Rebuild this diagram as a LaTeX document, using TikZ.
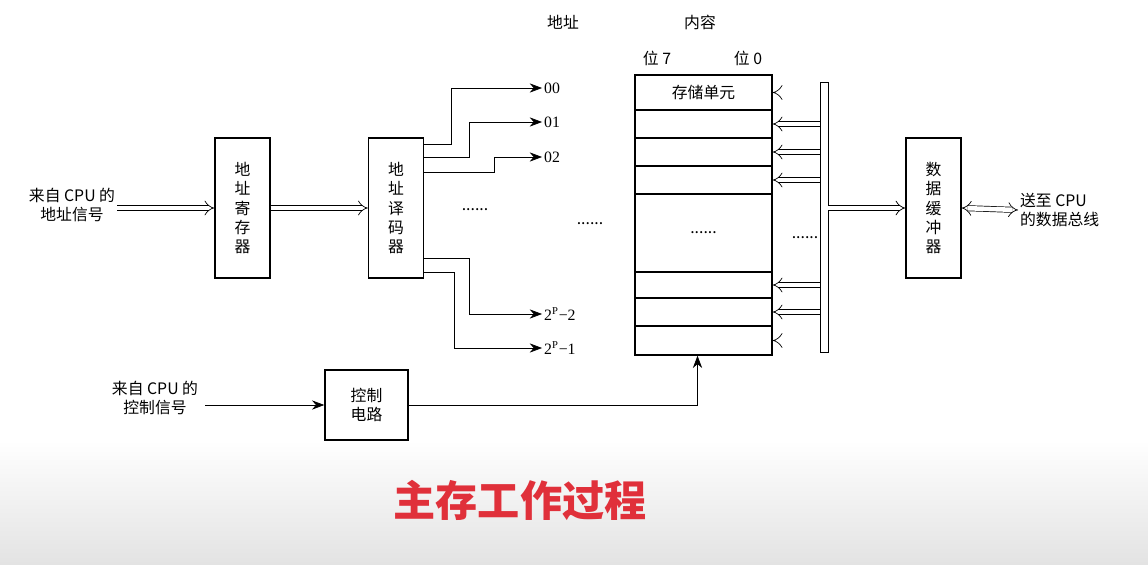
\documentclass[tikz,border=0pt]{standalone}
\usepackage{fontspec}
\setmainfont{Noto Sans CJK SC}
\newfontfamily\numfont{Liberation Serif}
\usetikzlibrary{arrows.meta, positioning, calc}
\definecolor{titlered}{HTML}{E0303A}

\begin{document}
\begin{tikzpicture}[x=0.02cm, y=-0.02cm,
  every node/.style={font=\small, inner sep=1pt},
  unit/.style={draw, thick, minimum width=1.1cm, minimum height=2.8cm,
               align=center, font=\small},
  cell/.style={draw, thick, minimum width=2.74cm},
  arr/.style={-{Stealth[length=7pt]}, thin},
  bus/.style={-{Implies}, double, double distance=2.6pt, thin},
  busboth/.style={{Implies}-{Implies}, double, double distance=2.6pt, thin},
  lbl/.style={font=\numfont\small, anchor=west},
]
  \useasboundingbox (0,0) rectangle (1148,564);
  \shade[top color=white, bottom color=gray!22] (0,440) rectangle (1148,564);

  % Units
  \node[unit] (reg) at (242.5,208) {地\\址\\寄\\存\\器};
  \node[unit] (dec) at (396,208) {地\\址\\译\\码\\器};
  \node[unit] (buf) at (933.5,208) {数\\据\\缓\\冲\\器};
  \node[draw, thick, minimum width=1.66cm, minimum height=1.4cm, align=center] (ctrl) at (366.5,405) {控制\\电路};

  % Sources
  \node[align=center] (src) at (72,205) {来自 CPU 的\\地址信号};
  \node[align=center] (csrc) at (155,398) {来自 CPU 的\\控制信号};
  \node[align=left, anchor=west] (dst) at (1018,210) {送至 CPU\\的数据总线};

  % Memory cells
  \foreach \t/\b/\n in {75/110/0, 110/138/1, 138/166/2, 166/194/3, 194/272/4, 272/298/5, 298/326/6, 326/355/7}{
    \pgfmathsetmacro\h{(\b-\t)*0.02}
    \node[cell, minimum height=\h cm] (c\n) at (703.5,{(\t+\b)/2}) {};
  }
  \node at (c0) {存储单元};
  \node at (c4) {......};

  % Headers
  \node (haddr) at (563,22) {地址};
  \node (hcont) at (700,22) {内容};
  \node (b7) at (657,58) {位 7};
  \node (b0) at (748,58) {位 0};

  % Address labels
  \node[lbl] (a0) at (542,88) {00};
  \node[lbl] (a1) at (542,122) {01};
  \node[lbl] (a2) at (542,157) {02};
  \node[lbl] (an2) at (542,314) {2\textsuperscript{P}−2};
  \node[lbl] (an1) at (542,348) {2\textsuperscript{P}−1};
  \node (d1) at (475,210) {......};
  \node (d2) at (590,224) {......};

  % Data bus
  \node[draw, thin, minimum width=0.16cm, minimum height=5.4cm, inner sep=0pt] (dbus) at (824,217) {};
  \node (d3) at (805,238) {......};

  % Arrows
  \draw[bus] (src.east |- reg.west) -- (reg.west);
  \draw[bus] (reg.east) -- (dec.west);
  \draw[arr] (dec.north east) ++(0,7) -- ++(27,0) |- (a0);
  \draw[arr] (dec.north east) ++(0,20) -- ++(45,0) |- (a1);
  \draw[arr] (dec.north east) ++(0,35) -- ++(70,0) |- (a2);
  \draw[arr] (dec.south east) ++(0,-20) -- ++(45,0) |- (an2);
  \draw[arr] (dec.south east) ++(0,-6) -- ++(30,0) |- (an1);
  \foreach \n in {0,1,2,3,5,6,7}
    \draw[bus] (dbus.west |- c\n.east) -- (c\n.east);
  \draw[bus] (dbus.east |- buf.west) -- (buf.west);
  \draw[busboth] (buf.east) -- (dst.west);
  \draw[arr] (csrc.east |- ctrl.west) ++(5,0) -- (ctrl.west);
  \draw[arr] (ctrl.east) -| ([xshift=-0.12cm]c7.south);

  % Title
  \node[font=\bfseries\fontsize{24}{28}\selectfont, text=titlered] (title) at (520,500) {主存工作过程};
\end{tikzpicture}
\end{document}
